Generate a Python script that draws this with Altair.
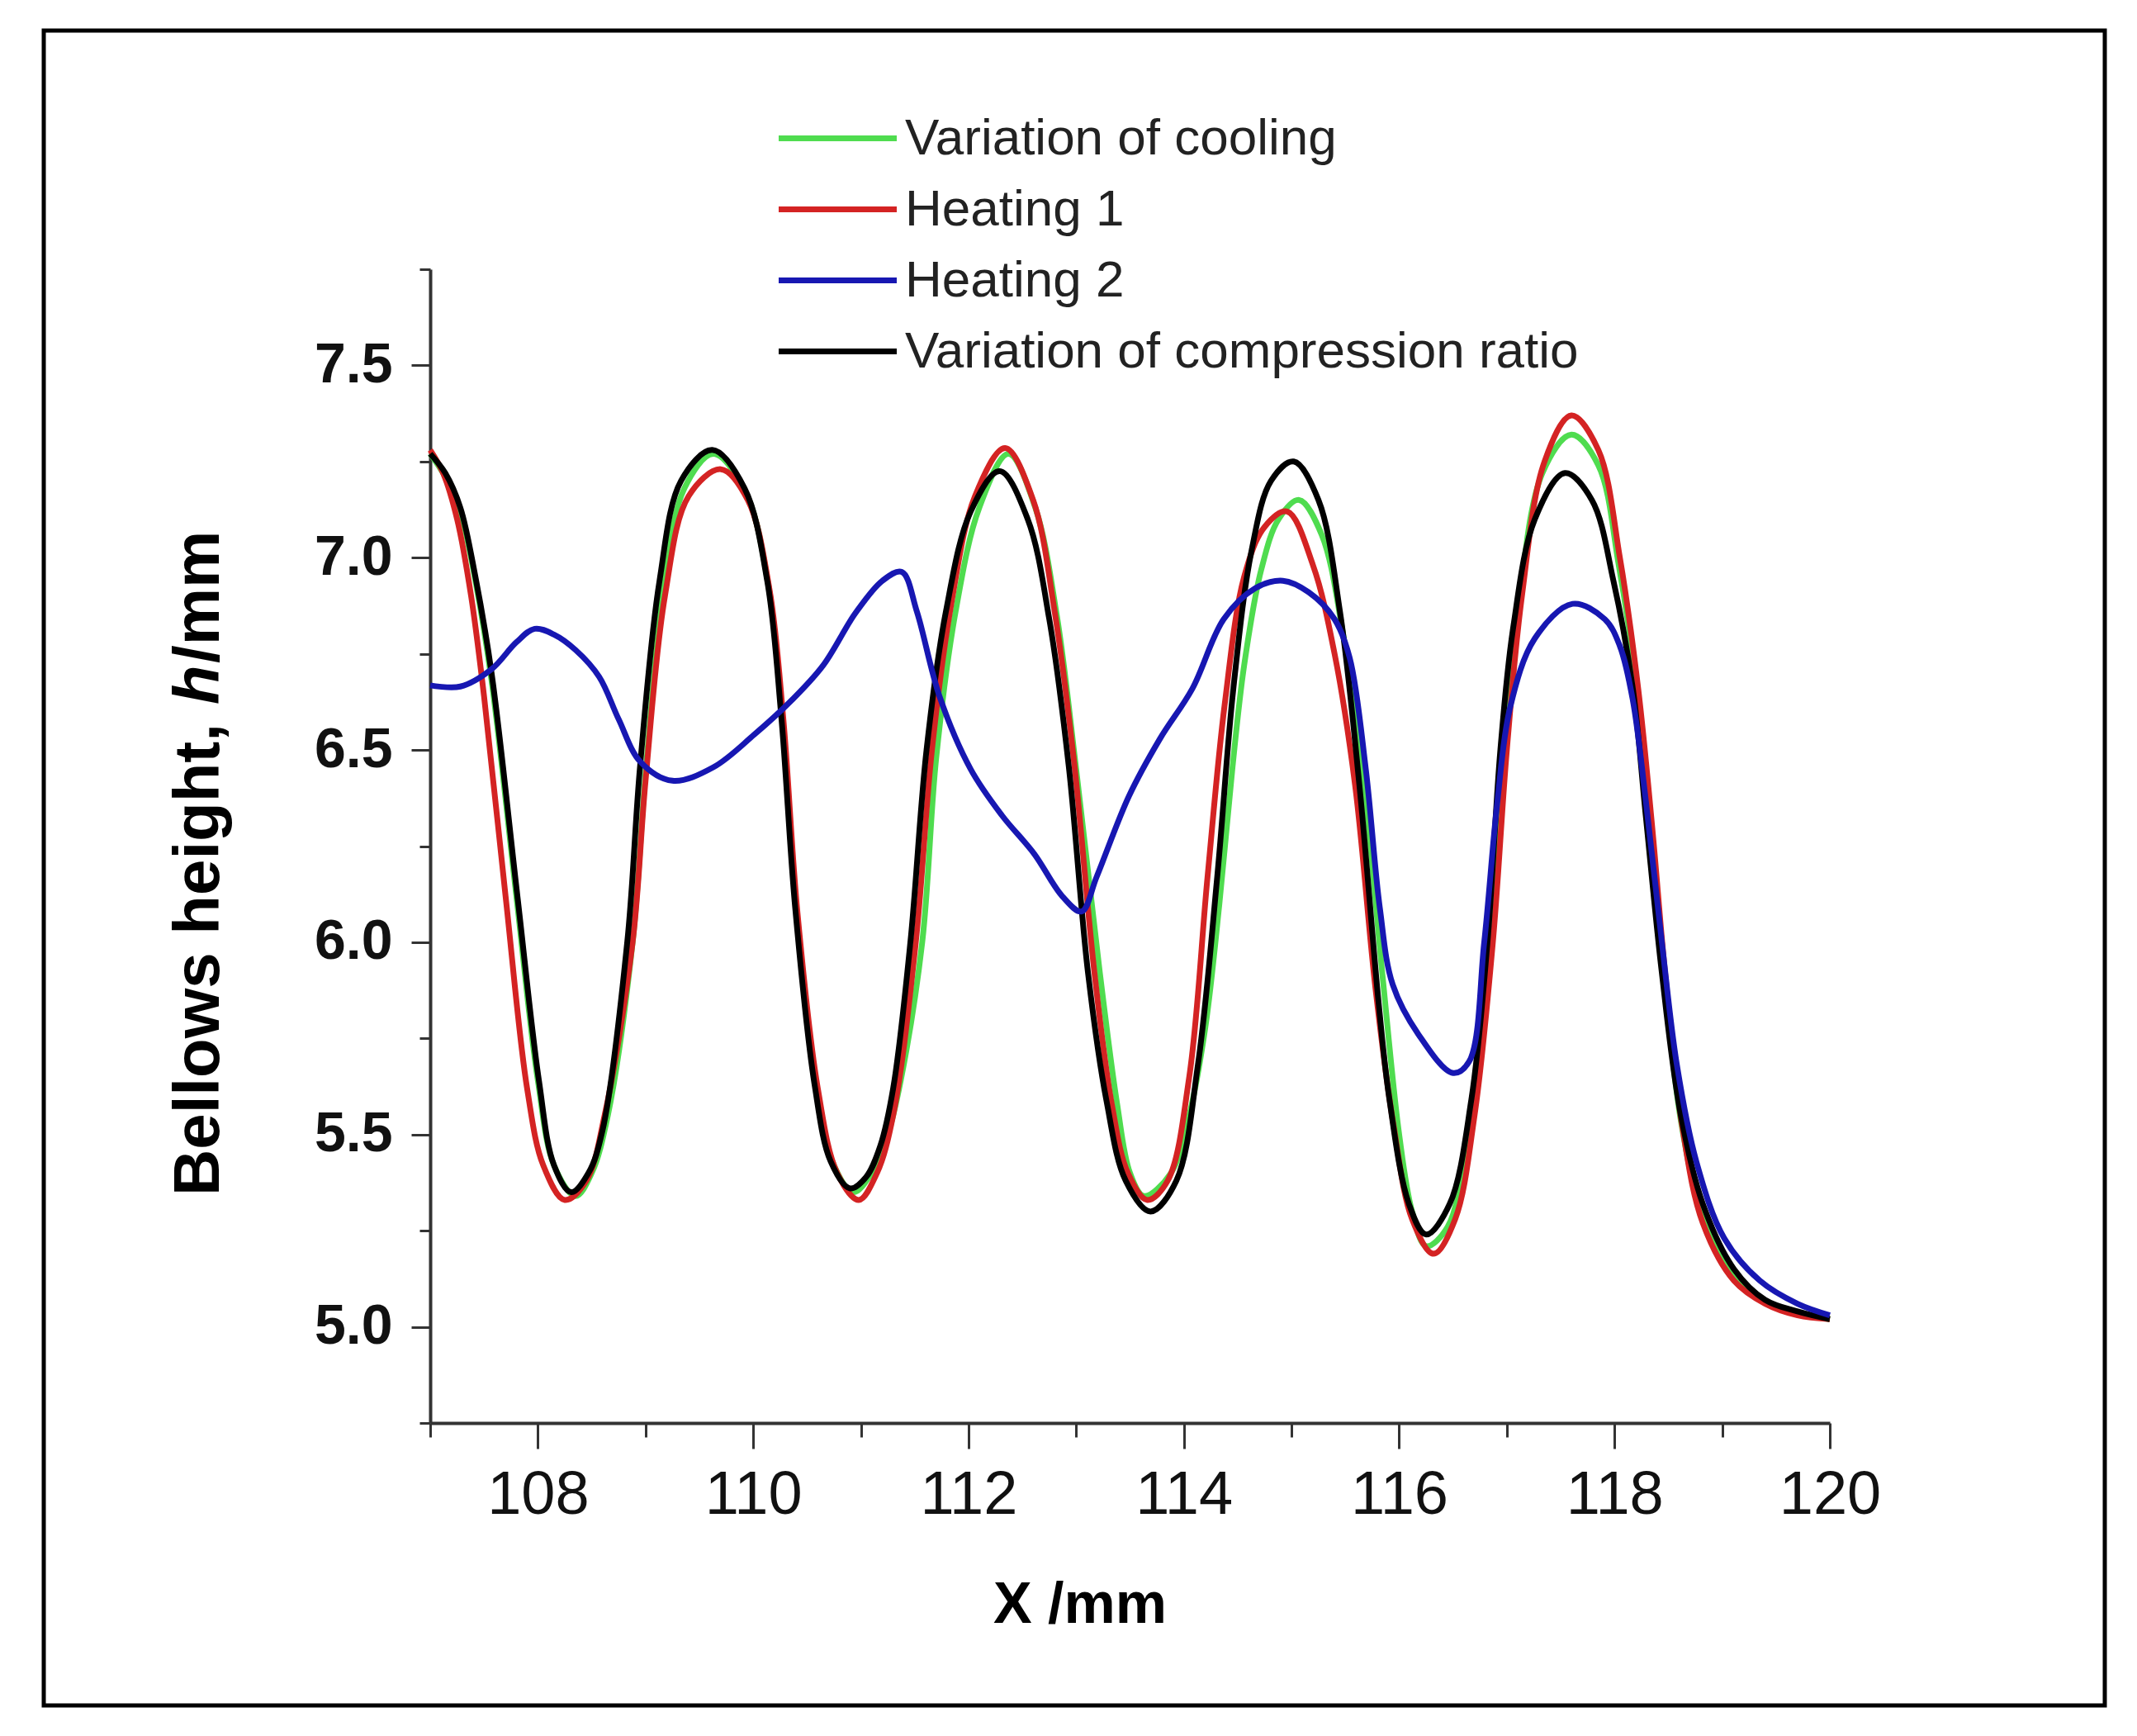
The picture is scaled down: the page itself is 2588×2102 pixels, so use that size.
import altair as alt
import pandas as pd

SERIES = ["Variation of cooling", "Heating 1", "Heating 2", "Variation of compression ratio"]
COLORS = ["#4fdc4f", "#d42323", "#1717b2", "#000000"]

x_cooling = [107.00, 107.14, 107.28, 107.42, 107.57, 107.80, 108.00, 108.15, 108.35, 108.50,
             108.65, 108.88, 109.00, 109.17, 109.36, 109.63, 109.93, 110.14, 110.27, 110.40,
             110.58, 110.75, 110.93, 111.10, 111.25, 111.37, 111.57, 111.70, 111.88, 112.10,
             112.37, 112.62, 112.82, 113.00, 113.22, 113.38, 113.50, 113.63, 113.88, 114.05,
             114.20, 114.33, 114.45, 114.56, 114.72, 114.88, 115.07, 115.28, 115.48, 115.66,
             115.85, 116.00, 116.12, 116.25, 116.45, 116.65, 116.85, 116.98, 117.10, 117.33,
             117.60, 117.85, 118.04, 118.21, 118.34, 118.46, 118.62, 118.82, 119.11, 119.40,
             119.70, 120.00]
h_cooling = [7.27, 7.21, 7.12, 6.94, 6.68, 6.12, 5.64, 5.42, 5.34, 5.40,
             5.55, 6.00, 6.44, 6.92, 7.18, 7.27, 7.17, 6.93, 6.59, 6.09,
             5.63, 5.42, 5.35, 5.40, 5.50, 5.64, 6.00, 6.48, 6.86, 7.13,
             7.27, 7.13, 6.85, 6.45, 5.92, 5.58, 5.40, 5.34, 5.40, 5.55,
             5.78, 6.10, 6.45, 6.72, 6.97, 7.10, 7.15, 7.06, 6.80, 6.45,
             5.90, 5.50, 5.30, 5.21, 5.26, 5.52, 6.00, 6.50, 6.85, 7.22,
             7.32, 7.24, 6.98, 6.66, 6.30, 5.92, 5.53, 5.29, 5.13, 5.065,
             5.035, 5.02]

x_heating1 = [107.00, 107.12, 107.25, 107.38, 107.50, 107.70, 107.90, 108.05, 108.25, 108.45,
              108.62, 108.88, 109.00, 109.18, 109.40, 109.70, 109.95, 110.15, 110.28, 110.41,
              110.60, 110.78, 110.98, 111.15, 111.30, 111.51, 111.66, 111.84, 112.06, 112.34,
              112.60, 112.80, 112.98, 113.17, 113.33, 113.48, 113.66, 113.85, 114.05, 114.22,
              114.38, 114.56, 114.75, 114.96, 115.20, 115.40, 115.59, 115.78, 115.95, 116.12,
              116.32, 116.52, 116.70, 116.87, 117.00, 117.14, 117.35, 117.60, 117.85, 118.05,
              118.22, 118.35, 118.47, 118.63, 118.82, 119.11, 119.40, 119.70, 120.00]
h_heating1 = [7.28, 7.22, 7.10, 6.90, 6.64, 6.12, 5.62, 5.42, 5.33, 5.38,
              5.55, 6.00, 6.42, 6.90, 7.16, 7.23, 7.15, 6.92, 6.58, 6.08,
              5.62, 5.40, 5.33, 5.40, 5.55, 6.00, 6.50, 6.88, 7.16, 7.285,
              7.15, 6.86, 6.47, 5.92, 5.58, 5.40, 5.33, 5.38, 5.65, 6.17,
              6.62, 6.95, 7.08, 7.12, 6.98, 6.75, 6.41, 5.88, 5.52, 5.28,
              5.19, 5.28, 5.55, 6.00, 6.50, 6.90, 7.25, 7.37, 7.28, 7.00,
              6.66, 6.30, 5.92, 5.52, 5.27, 5.12, 5.06, 5.03, 5.02]

x_heating2 = [107.00, 107.28, 107.57, 107.80, 107.97, 108.15, 108.35, 108.57, 108.75, 108.95,
              109.25, 109.63, 110.01, 110.36, 110.65, 110.95, 111.20, 111.38, 111.52, 111.73,
              112.02, 112.31, 112.61, 112.87, 113.05, 113.19, 113.49, 113.78, 114.08, 114.37,
              114.66, 114.92, 115.16, 115.40, 115.54, 115.69, 115.82, 115.94, 116.18, 116.50,
              116.65, 116.79, 116.91, 117.03, 117.26, 117.61, 117.91, 118.05, 118.17, 118.29,
              118.44, 118.58, 118.76, 119.02, 119.35, 119.70, 120.00]
h_heating2 = [6.668, 6.665, 6.71, 6.78, 6.815, 6.80, 6.76, 6.69, 6.58, 6.47,
              6.42, 6.455, 6.54, 6.63, 6.72, 6.856, 6.94, 6.963, 6.86, 6.64,
              6.45, 6.33, 6.23, 6.12, 6.08, 6.17, 6.38, 6.53, 6.66, 6.84,
              6.92, 6.94, 6.91, 6.84, 6.74, 6.45, 6.09, 5.89, 5.76, 5.66,
              5.69, 6.00, 6.36, 6.61, 6.79, 6.88, 6.84, 6.77, 6.63, 6.37,
              6.00, 5.68, 5.43, 5.23, 5.12, 5.06, 5.03]

x_compression = [107.00, 107.14, 107.28, 107.42, 107.57, 107.81, 108.01, 108.15, 108.31, 108.47,
                 108.60, 108.83, 108.95, 109.13, 109.33, 109.62, 109.92, 110.13, 110.26, 110.39,
                 110.57, 110.72, 110.90, 111.05, 111.18, 111.30, 111.46, 111.61, 111.79, 112.02,
                 112.29, 112.55, 112.75, 112.93, 113.11, 113.28, 113.46, 113.69, 113.93, 114.13,
                 114.31, 114.46, 114.63, 114.81, 115.02, 115.25, 115.45, 115.63, 115.81, 115.91,
                 116.09, 116.25, 116.47, 116.67, 116.82, 116.94, 117.06, 117.26, 117.54, 117.79,
                 117.99, 118.17, 118.29, 118.44, 118.61, 118.82, 119.11, 119.40, 119.70, 120.00]
h_compression = [7.27, 7.22, 7.13, 6.95, 6.70, 6.12, 5.64, 5.42, 5.35, 5.40,
                 5.51, 6.00, 6.46, 6.94, 7.20, 7.28, 7.18, 6.94, 6.59, 6.09,
                 5.63, 5.43, 5.36, 5.39, 5.47, 5.62, 6.00, 6.50, 6.86, 7.12,
                 7.225, 7.10, 6.84, 6.46, 5.92, 5.59, 5.38, 5.30, 5.38, 5.68,
                 6.17, 6.66, 7.02, 7.20, 7.25, 7.15, 6.86, 6.41, 5.84, 5.59,
                 5.32, 5.24, 5.32, 5.59, 6.00, 6.50, 6.82, 7.10, 7.22, 7.15,
                 6.94, 6.66, 6.33, 5.92, 5.56, 5.32, 5.15, 5.07, 5.04, 5.02]

x_ticks = [107, 108, 109, 110, 111, 112, 113, 114, 115, 116, 117, 118, 119, 120]
y_ticks = [4.75, 5.0, 5.25, 5.5, 5.75, 6.0, 6.25, 6.5, 6.75, 7.0, 7.25, 7.5, 7.75]

FONT = "Liberation Sans, Arial, sans-serif"

W, H = 1695, 1397

# drawing order: green, red, black, then blue on top
parts = []
for name, xs, hs in [
    (SERIES[0], x_cooling, h_cooling),
    (SERIES[1], x_heating1, h_heating1),
    (SERIES[3], x_compression, h_compression),
    (SERIES[2], x_heating2, h_heating2),
]:
    parts.append(pd.DataFrame({"x": xs, "h": hs, "series": name}))
df = pd.concat(parts, ignore_index=True)
one = pd.DataFrame({"k": [0]})

lines = (
    alt.Chart(df)
    .mark_line(strokeWidth=7, interpolate="catmull-rom")
    .encode(
        x=alt.X(
            "x:Q",
            scale=alt.Scale(domain=[107, 120], nice=False, zero=False),
            axis=alt.Axis(
                values=x_ticks,
                labelExpr="datum.value % 2 == 0 ? datum.label : ''",
                tickSize={"condition": {"test": "datum.value % 2 == 0", "value": 31}, "value": 17},
                tickWidth=3,
                tickColor="#333333",
                domainColor="#333333",
                domainWidth=4,
                labelFont=FONT,
                labelFontSize=74,
                labelColor="#111111",
                labelPadding=20,
                labelFlush=False,
                labelOverlap=False,
                grid=False,
                title="",
            ),
        ),
        y=alt.Y(
            "h:Q",
            scale=alt.Scale(domain=[4.75, 7.75], nice=False, zero=False),
            axis=alt.Axis(
                values=y_ticks,
                format=".1f",
                labelExpr="round(datum.value * 4) % 2 == 0 ? datum.label : ''",
                tickSize={"condition": {"test": "round(datum.value * 4) % 2 == 0", "value": 23}, "value": 13},
                tickWidth=3,
                tickColor="#333333",
                domainColor="#333333",
                domainWidth=4,
                labelFont=FONT,
                labelFontWeight="bold",
                labelFontSize=68,
                labelColor="#111111",
                labelPadding=23,
                labelFlush=False,
                labelOverlap=False,
                grid=False,
                title="",
            ),
        ),
        color=alt.Color(
            "series:N",
            scale=alt.Scale(domain=SERIES, range=COLORS),
            legend=alt.Legend(
                title="",
                orient="none",
                legendX=454,
                legendY=-198,
                symbolType="M-2,0H2",
                symbolSize=5112,
                symbolStrokeWidth=7,
                labelFont=FONT,
                labelFontSize=62,
                labelColor="#222222",
                labelOffset=42,
                labelLimit=2000,
                rowPadding=15,
                padding=0,
            ),
        ),
    )
)

frame = (
    alt.Chart(one)
    .mark_rect(fillOpacity=0, stroke="#000000", strokeWidth=5)
    .encode(x=alt.value(-468), x2=alt.value(2028), y=alt.value(-289), y2=alt.value(1739))
)

x_title = (
    alt.Chart(one)
    .mark_text(font=FONT, fontSize=70, fontWeight="bold", align="center", baseline="alphabetic")
    .encode(x=alt.value(787), y=alt.value(1639), text=alt.value("X /mm"))
)

y_title_a = (
    alt.Chart(one)
    .mark_text(font=FONT, fontSize=78, fontWeight="bold", angle=270, align="right", baseline="alphabetic")
    .encode(x=alt.value(-256), y=alt.value(550), text=alt.value("Bellows height,"))
)
y_title_b = (
    alt.Chart(one)
    .mark_text(font=FONT, fontSize=78, fontWeight="bold", fontStyle="italic", angle=270, align="left", baseline="alphabetic")
    .encode(x=alt.value(-256), y=alt.value(527), text=alt.value("h"))
)
y_title_c = (
    alt.Chart(one)
    .mark_text(font=FONT, fontSize=78, fontWeight="bold", angle=270, align="left", baseline="alphabetic")
    .encode(x=alt.value(-256), y=alt.value(477), text=alt.value("/mm"))
)

chart = (
    alt.layer(frame, lines, x_title, y_title_a, y_title_b, y_title_c)
    .properties(
        width=W,
        height=H,
        autosize="none",
        padding={"left": 513, "top": 318, "right": 344, "bottom": 357},
        background="#ffffff",
    )
    .configure_view(stroke="transparent")
)

chart.save("out.html", embed_options={"renderer": "svg", "actions": False})
